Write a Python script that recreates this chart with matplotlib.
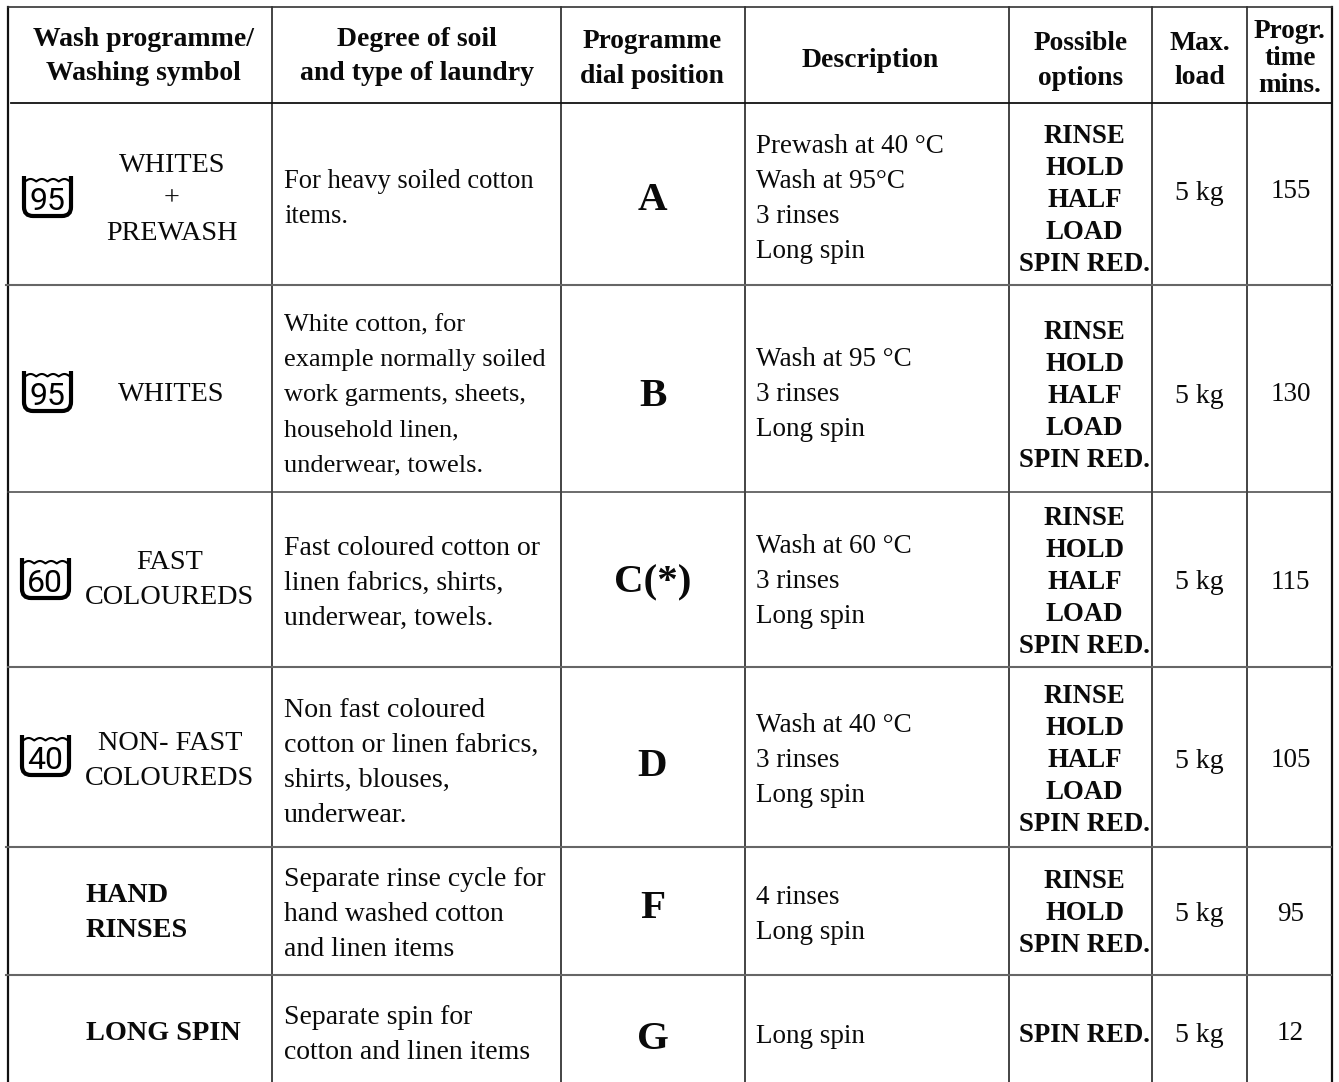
from matplotlib import pyplot as plt
from matplotlib.patches import PathPatch
from matplotlib.path import Path
import numpy as np

plt.rcParams['font.family'] = ['Liberation Serif']

# table contents
headers = [
    ["Wash programme/", "Washing symbol"],
    ["Degree of soil", "and type of laundry"],
    ["Programme", "dial position"],
    ["Description"],
    ["Possible", "options"],
    ["Max.", "load"],
    ["Progr.", "time", "mins."],
]
programmes = [
    ["WHITES", "+", "PREWASH"],
    ["WHITES"],
    ["FAST", "COLOUREDS"],
    ["NON- FAST", "COLOUREDS"],
    ["HAND", "RINSES"],
    ["LONG SPIN"],
]
symbols = ["95", "95", "60", "40"]
soil = [
    ["For heavy soiled cotton", "items."],
    ["White cotton, for", "example normally soiled", "work garments, sheets,", "household linen,", "underwear, towels."],
    ["Fast coloured cotton or", "linen fabrics, shirts,", "underwear, towels."],
    ["Non fast coloured", "cotton or linen fabrics,", "shirts, blouses,", "underwear."],
    ["Separate rinse cycle for", "hand washed cotton", "and linen items"],
    ["Separate spin for", "cotton and linen items"],
]
dial = ["A", "B", "C(*)", "D", "F", "G"]
description = [
    ["Prewash at 40 °C", "Wash at 95°C", "3 rinses", "Long spin"],
    ["Wash at 95 °C", "3 rinses", "Long spin"],
    ["Wash at 60 °C", "3 rinses", "Long spin"],
    ["Wash at 40 °C", "3 rinses", "Long spin"],
    ["4 rinses", "Long spin"],
    ["Long spin"],
]
full_options = ["RINSE", "HOLD", "HALF", "LOAD", "SPIN RED."]
options = [
    full_options,
    full_options,
    full_options,
    full_options,
    ["RINSE", "HOLD", "SPIN RED."],
    ["SPIN RED."],
]
max_load = ["5 kg", "5 kg", "5 kg", "5 kg", "5 kg", "5 kg"]
prog_time = ["155", "130", "115", "105", "95", "12"]

# layout, in pixels of the page
col_x = [8, 272, 561, 745, 1009, 1152, 1247, 1332]
row_y = [103, 285, 491.5, 666.5, 847, 975]
row_start = [11, 6, 8, 8, 6, 6]
row_col = ['#111111', '#666666', '#444444', '#666666', '#666666', '#666666']
row_lw = [1.3, 1.5, 1.1, 1.5, 1.5, 1.5]
header_x = [143.5, 417, 652, 870, 1081, 1200, 1290]
header_y = [[46, 80], [46, 80], [48, 83], [67], [50, 85], [50, 84], [38, 65, 92]]
header_size = [19.95, 19.95, 19.7, 19.95, 19.7, 19.95, 19.6]
prog_y = [[172, 205, 240], [401], [569, 604], [750, 785], [902, 937], [1040]]
prog_x = [172, 171.5, 170, 170, 86, 86]
symbol_x = [24, 24, 22, 22]
symbol_y = [176, 371, 558, 735]
soil_y = [188, 331, 555, 717, 886, 1024]
soil_size = [19.1, 19.0, 20.0, 20.2, 20.0, 20.0]
dial_y = [210, 406, 592, 776, 918, 1049]
desc_y = [153, 366, 553, 732, 904, 1043]
option_y = [143, 339, 525, 703, 888, 1042]
load_y = [200, 403, 589, 768, 921, 1042]
time_y = [198, 401, 589, 767, 921, 1040]

BODY = 19.5
NAME = 20.3
DIAL = 29.5


def put(ax, x, y, s, size=BODY, bold=False, ha='left'):
    ax.text(x, y, s, fontsize=size, fontweight='bold' if bold else 'normal',
            ha=ha, va='baseline', color='#0a0a0a')


def washSymbol(ax, x, y, label):
    w, h = 47, 40
    # tub outline with rounded lower corners
    verts = [(x, y), (x, y + h - 9), (x, y + h), (x + 9, y + h),
             (x + w - 9, y + h), (x + w, y + h), (x + w, y + h - 9), (x + w, y)]
    codes = [Path.MOVETO, Path.LINETO, Path.CURVE3, Path.CURVE3,
             Path.LINETO, Path.CURVE3, Path.CURVE3, Path.LINETO]
    ax.add_patch(PathPatch(Path(verts, codes), fill=False, lw=3.0, color='black', capstyle='butt'))
    # water surface
    t = np.linspace(x + 1, x + w - 1, 100)
    ax.plot(t, y + 5.5 - 2.5 * np.abs(np.sin((t - x - 1) * np.pi * 4 / (w - 2))), color='black', lw=1.5)
    ax.text(x + w / 2 - 0.5, y + 34, label, family='Roboto', fontsize=23,
            ha='center', va='baseline', color='black')


def main():
    fig = plt.figure(figsize=(13.39, 10.82), dpi=100)
    ax = fig.add_axes([0, 0, 1, 1])
    ax.set_xlim(0, 1339)
    ax.set_ylim(1082, 0)
    ax.axis('off')

    # grid
    for x in col_x:
        ax.plot([x, x], [7, 1082], color='#111111', lw=1.6 if x in (8, 1332) else 1.1)
    ax.plot([8, 1332], [7, 7], color='#333333', lw=1.2)
    for y, x0, c, lw in zip(row_y, row_start, row_col, row_lw):
        ax.plot([x0, 1331], [y, y], color=c, lw=lw)

    # header
    for x, lines, ys, size in zip(header_x, headers, header_y, header_size):
        for s, y in zip(lines, ys):
            put(ax, x, y, s, size, True, 'center')

    pitch = 35
    for i in range(6):
        # programme name
        for s, y in zip(programmes[i], prog_y[i]):
            if i >= 4:
                put(ax, prog_x[i], y, s, NAME, True)
            else:
                put(ax, prog_x[i], y, s, NAME, False, 'center')
        if i < len(symbols):
            washSymbol(ax, symbol_x[i], symbol_y[i], symbols[i])
        for j, s in enumerate(soil[i]):
            put(ax, 284, soil_y[i] + j * pitch, s, soil_size[i])
        put(ax, 652.5, dial_y[i], dial[i], DIAL, True, 'center')
        for j, s in enumerate(description[i]):
            put(ax, 756, desc_y[i] + j * pitch, s)
        for j, s in enumerate(options[i]):
            put(ax, 1084.5, option_y[i] + j * 32, s, 19.3, True, 'center')
        put(ax, 1199.5, load_y[i], max_load[i], 20, False, 'center')
        put(ax, 1290.5, time_y[i], prog_time[i], BODY, False, 'center')

    fig.savefig('out.png', dpi=100)


if __name__ == "__main__":
    main()
